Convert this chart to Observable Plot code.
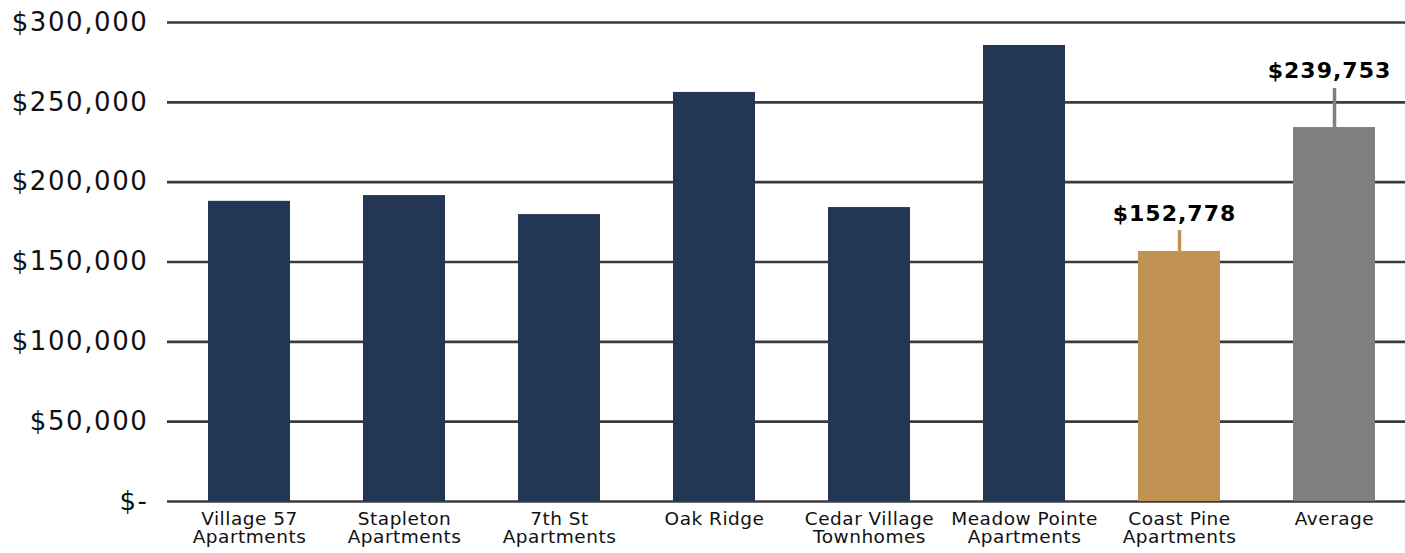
<!DOCTYPE html>
<html>
<head>
<meta charset="utf-8">
<script src="https://cdn.jsdelivr.net/npm/d3@7"></script>
<script src="https://cdn.jsdelivr.net/npm/@observablehq/plot@0.6"></script>
<style>
  html, body { margin: 0; padding: 0; background: #fff; }
  #chart svg { display: block; overflow: visible; }
</style>
</head>
<body>
<div id="chart"></div>
<script>
// ---- data ----
const categories = [
  "Village 57\nApartments",
  "Stapleton\nApartments",
  "7th St\nApartments",
  "Oak Ridge",
  "Cedar Village\nTownhomes",
  "Meadow Pointe\nApartments",
  "Coast Pine\nApartments",
  "Average"
];
const values = [188000, 191600, 179700, 256200, 184100, 285600, 156600, 234200];
const groups = ["comp", "comp", "comp", "comp", "comp", "comp", "subject", "average"];
const upperValues = [null, null, null, null, null, null, 169700, 258700];
const labelValues = [null, null, null, null, null, null, 152778, 239753];
const yTicks = [0, 50000, 100000, 150000, 200000, 250000, 300000];

const data = categories.map((name, i) => ({
  name, value: values[i], group: groups[i], upper: upperValues[i], label: labelValues[i]
}));
const labeled = data.filter(d => d.label != null);

const money = v => v === 0 ? "$-" : "$" + d3.format(",")(v);
const font = "'DejaVu Sans', sans-serif";

const chart = Plot.plot({
  width: 1405,
  height: 553,
  marginTop: 22,
  marginBottom: 52,
  marginLeft: 167,
  marginRight: 0,
  style: { fontFamily: font, background: "#fff", overflow: "visible" },
  x: {
    domain: categories,
    range: [173, 1410],
    paddingInner: 0.47,
    paddingOuter: 0.225,
    label: null
  },
  y: { domain: [0, 300000], label: null },
  color: {
    domain: ["comp", "subject", "average"],
    range: ["#233654", "#C09352", "#7F7F7F"]
  },
  marks: [
    Plot.ruleY(yTicks, { stroke: "#3b3b3b", strokeWidth: 2.6 }),
    Plot.axisY({
      ticks: yTicks, tickSize: 0, tickPadding: 19, tickFormat: money,
      fontSize: 26, fill: "#111", label: null
    }),
    Plot.axisX({
      tickSize: 0, tickPadding: 10, fontSize: 18.5, fill: "#111",
      lineAnchor: "top", label: null
    }),
    Plot.barY(data, { x: "name", y: "value", fill: "group" }),
    Plot.ruleX(labeled, { x: "name", y1: "value", y2: "upper", stroke: "group", strokeWidth: 3.5 }),
    Plot.text(labeled, {
      x: "name", y: "upper", text: d => money(d.label),
      dy: -17, dx: -5, fontSize: 22, fontWeight: "bold", fill: "#000"
    })
  ]
});

// widen glyph spacing to match the reference's wide typeface
d3.select(chart).selectAll("[aria-label='y-axis tick label'] text").style("letter-spacing", "1.6px");
d3.select(chart).selectAll("[aria-label='x-axis tick label'] text").style("letter-spacing", "0.5px");
d3.select(chart).selectAll("[aria-label='text'] text").style("letter-spacing", "1px");

document.getElementById("chart").appendChild(chart);
</script>
</body>
</html>
